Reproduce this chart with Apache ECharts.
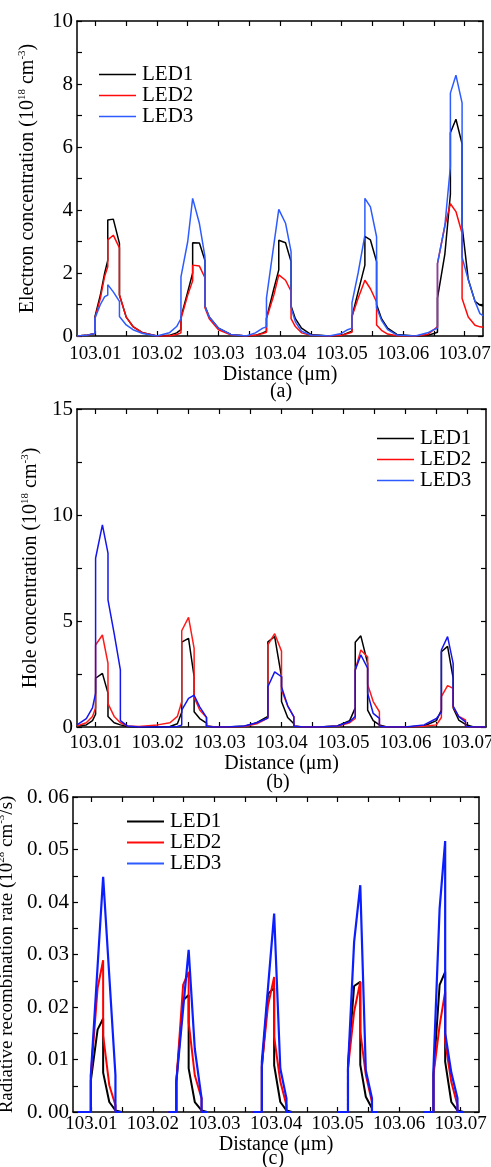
<!DOCTYPE html>
<html>
<head>
<meta charset="utf-8">
<title>LED carrier profiles</title>
<script src="https://cdn.jsdelivr.net/npm/echarts@6.0.0/dist/echarts.min.js"></script>
<style>
  html, body { margin: 0; padding: 0; background: #fff; }
  #chart-container { width: 491px; height: 1167px; }
</style>
</head>
<body>
<div id="chart-container"></div>
<script>
// ---- data ----
// (a) electron concentration, 1e18 cm^-3
const distA = [
  103.0070, 103.0085, 103.0099, 103.0099, 103.0108, 103.0115, 103.0120, 103.0120, 103.0129, 103.0139, 103.0139, 103.0150, 103.0161, 103.0177, 103.0200,
  103.0220, 103.0232, 103.0239, 103.0239, 103.0250, 103.0258, 103.0258, 103.0269, 103.0278, 103.0278, 103.0285, 103.0300, 103.0320, 103.0345,
  103.0360, 103.0372, 103.0378, 103.0378, 103.0390, 103.0398, 103.0398, 103.0409, 103.0418, 103.0418, 103.0425, 103.0435, 103.0450, 103.0480,
  103.0500, 103.0510, 103.0517, 103.0517, 103.0527, 103.0538, 103.0538, 103.0547, 103.0557, 103.0557, 103.0565, 103.0575, 103.0590, 103.0620,
  103.0640, 103.0650, 103.0656, 103.0656, 103.0668, 103.0677, 103.0677, 103.0686, 103.0696, 103.0696, 103.0706, 103.0717, 103.0725, 103.0730
];
const led1A = [
  0, 0.02, 0.08, 0.6, 1.3, 2.0, 2.4, 3.68, 3.71, 2.94, 1.3, 0.6, 0.3, 0.1, 0.0,
  0.02, 0.1, 0.2, 0.6, 1.4, 2.0, 2.96, 2.95, 2.4, 0.95, 0.6, 0.25, 0.05, 0.0,
  0.02, 0.1, 0.15, 0.56, 1.5, 2.1, 3.04, 2.96, 2.36, 0.95, 0.55, 0.25, 0.05, 0.0,
  0.02, 0.1, 0.15, 0.62, 1.4, 2.25, 3.16, 3.05, 2.36, 1.0, 0.55, 0.25, 0.05, 0.0,
  0.02, 0.08, 0.12, 1.2, 2.6, 4.5, 6.45, 6.88, 6.1, 3.5, 1.8, 1.1, 0.98, 0.95
];
const led2A = [
  0, 0.02, 0.08, 0.55, 1.2, 1.9, 2.2, 3.05, 3.2, 2.8, 1.3, 0.6, 0.3, 0.1, 0.0,
  0.0, 0.05, 0.1, 0.55, 1.3, 1.75, 2.25, 2.22, 1.85, 0.9, 0.55, 0.2, 0.04, 0.0,
  0.02, 0.08, 0.12, 0.55, 1.3, 1.94, 1.94, 1.77, 1.42, 0.55, 0.3, 0.1, 0.02, 0.0,
  0.02, 0.08, 0.12, 0.62, 1.2, 1.77, 1.77, 1.5, 1.08, 0.35, 0.18, 0.06, 0.01, 0.0,
  0.05, 0.2, 0.3, 2.3, 3.5, 4.2, 4.2, 3.95, 3.26, 1.19, 0.6, 0.34, 0.29, 0.28
];
const led3A = [
  0, 0.02, 0.08, 0.56, 1.0, 1.25, 1.3, 1.63, 1.4, 1.1, 0.62, 0.35, 0.2, 0.08, 0.0,
  0.1, 0.3, 0.55, 1.88, 3.0, 4.37, 4.37, 3.57, 2.52, 0.95, 0.6, 0.25, 0.05, 0.0,
  0.1, 0.25, 0.29, 1.2, 2.9, 4.02, 4.02, 3.58, 2.68, 0.9, 0.45, 0.15, 0.03, 0.0,
  0.08, 0.2, 0.25, 1.05, 2.0, 3.2, 4.37, 4.1, 3.15, 0.9, 0.5, 0.2, 0.03, 0.0,
  0.1, 0.2, 0.25, 2.3, 3.5, 5.38, 7.71, 8.28, 7.4, 2.5, 1.79, 1.1, 0.71, 0.65
];

// (b) hole concentration, 1e18 cm^-3
const distB = [
  103.0070, 103.0085, 103.0095, 103.0100, 103.0100, 103.0111, 103.0120, 103.0120, 103.0130, 103.0140, 103.0140, 103.0151, 103.0170, 103.0200,
  103.0220, 103.0232, 103.0239, 103.0239, 103.0250, 103.0259, 103.0259, 103.0268, 103.0279, 103.0279, 103.0290, 103.0310,
  103.0340, 103.0360, 103.0378, 103.0378, 103.0389, 103.0400, 103.0400, 103.0410, 103.0420, 103.0420, 103.0435, 103.0460,
  103.0490, 103.0510, 103.0519, 103.0519, 103.0528, 103.0539, 103.0539, 103.0548, 103.0558, 103.0558, 103.0570, 103.0600,
  103.0630, 103.0650, 103.0658, 103.0658, 103.0668, 103.0677, 103.0677, 103.0686, 103.0697, 103.0697, 103.0710, 103.0730
];
const led1B = [
  0.05, 0.1, 0.3, 0.6, 2.3, 2.53, 1.6, 0.5, 0.2, 0.1, 0.05, 0.02, 0.0, 0.0,
  0.02, 0.15, 0.7, 4.0, 4.18, 2.37, 0.72, 0.4, 0.18, 0.05, 0.01, 0.0,
  0.03, 0.2, 0.5, 4.02, 4.26, 2.37, 1.2, 0.45, 0.15, 0.05, 0.0, 0.0,
  0.05, 0.3, 0.9, 4.0, 4.3, 3.0, 0.8, 0.3, 0.1, 0.05, 0.0, 0.0,
  0.05, 0.3, 0.8, 3.55, 3.8, 2.3, 0.9, 0.33, 0.12, 0.03, 0.0, 0.0
];
const led2B = [
  0.05, 0.2, 0.5, 0.9, 3.87, 4.34, 3.0, 1.1, 0.5, 0.2, 0.2, 0.05, 0.02, 0.1,
  0.2, 0.5, 1.19, 4.54, 5.17, 3.71, 1.4, 0.8, 0.45, 0.03, 0.01, 0.0,
  0.02, 0.15, 0.42, 3.87, 4.4, 3.58, 1.75, 1.0, 0.48, 0.03, 0.0, 0.0,
  0.03, 0.2, 0.4, 2.69, 3.63, 3.3, 2.0, 1.2, 0.72, 0.03, 0.0, 0.0,
  0.03, 0.1, 0.45, 1.43, 1.95, 1.82, 0.95, 0.5, 0.33, 0.02, 0.0, 0.0
];
const led3B = [
  0.1, 0.4, 0.9, 1.6, 7.96, 9.53, 8.2, 6.0, 4.4, 2.69, 0.3, 0.05, 0.0, 0.0,
  0.0, 0.02, 0.09, 0.8, 1.35, 1.5, 1.5, 0.95, 0.45, 0.03, 0.0, 0.0,
  0.05, 0.2, 0.42, 1.9, 2.6, 2.37, 1.9, 1.0, 0.48, 0.03, 0.0, 0.0,
  0.05, 0.25, 0.5, 2.69, 3.4, 2.77, 1.6, 0.64, 0.41, 0.03, 0.0, 0.0,
  0.1, 0.4, 0.7, 3.63, 4.26, 3.0, 0.99, 0.49, 0.24, 0.02, 0.0, 0.0
];

// (c) radiative recombination rate, 1e28 cm^-3/s  (null = gap between wells)
const distC = [
  103.0078, 103.0099, 103.0099, 103.0110, 103.0119, 103.0119, 103.0129, 103.0139, 103.0139, 103.0149, 103.0190,
  103.0225, 103.0238, 103.0238, 103.0249, 103.0258, 103.0258, 103.0268, 103.0279, 103.0279, 103.0288, 103.0330,
  103.0362, 103.0377, 103.0377, 103.0387, 103.0397, 103.0397, 103.0407, 103.0417, 103.0417, 103.0426, 103.0470,
  103.0500, 103.0517, 103.0517, 103.0527, 103.0537, 103.0537, 103.0546, 103.0556, 103.0556, 103.0565, 103.0610,
  103.0640, 103.0656, 103.0656, 103.0666, 103.0675, 103.0675, 103.0685, 103.0695, 103.0695, 103.0705
];
const led1C = [
  0, 0, 0.006, 0.0157, 0.0178, 0.0075, 0.0019, 0.0003, 0, 0, null,
  0, 0, 0.0058, 0.0213, 0.0223, 0.0083, 0.0019, 0.0003, 0, 0, null,
  0, 0, 0.0085, 0.0225, 0.0236, 0.0089, 0.0019, 0.0003, 0, 0, null,
  0, 0, 0.009, 0.024, 0.0248, 0.009, 0.0029, 0.0007, 0, 0, null,
  0, 0, 0.0071, 0.0242, 0.0267, 0.0096, 0.0019, 0.0003, 0, 0
];
const led2C = [
  0, 0, 0.007, 0.0236, 0.0289, 0.0146, 0.0051, 0.0013, 0, 0, null,
  0, 0, 0.0058, 0.0242, 0.0267, 0.0171, 0.007, 0.0026, 0, 0, null,
  0, 0, 0.0089, 0.0203, 0.0257, 0.0143, 0.0058, 0.0013, 0, 0, null,
  0, 0, 0.0083, 0.0191, 0.0248, 0.0153, 0.0071, 0.0019, 0, 0, null,
  0, 0, 0.0071, 0.0165, 0.0229, 0.0134, 0.0057, 0.0013, 0, 0
];
const led3C = [
  0, 0, 0.007, 0.0278, 0.0448, 0.0448, 0.0259, 0.007, 0, 0, null,
  0, 0, 0.0058, 0.0196, 0.0309, 0.0309, 0.012, 0.0026, 0, 0, null,
  0, 0, 0.0096, 0.0237, 0.0378, 0.0378, 0.0083, 0.0026, 0, 0, null,
  0, 0, 0.0083, 0.0324, 0.0432, 0.0432, 0.0079, 0.0026, 0, 0, null,
  0, 0, 0.0083, 0.0388, 0.0516, 0.015, 0.0075, 0.0026, 0, 0
];

// ticks
const xLabels = [103.01, 103.02, 103.03, 103.04, 103.05, 103.06, 103.07];
const xTicks = [103.010, 103.015, 103.020, 103.025, 103.030, 103.035, 103.040, 103.045, 103.050, 103.055, 103.060, 103.065, 103.070];
const yLabelsA = [0, 2, 4, 6, 8, 10];
const yTicksA = [0, 1, 2, 3, 4, 5, 6, 7, 8, 9, 10];
const yLabelsB = [0, 5, 10, 15];
const yTicksB = [0, 2.5, 5, 7.5, 10, 12.5, 15];
const yLabelsC = [0, 0.01, 0.02, 0.03, 0.04, 0.05, 0.06];
const yTicksC = [0, 0.005, 0.01, 0.015, 0.02, 0.025, 0.03, 0.035, 0.04, 0.045, 0.05, 0.055, 0.06];

const seriesNames = ["LED1", "LED2", "LED3"];

// ---- chart ----
var dom = document.getElementById("chart-container");
var myChart = echarts.init(dom, null, { renderer: "canvas" });

const FONT = "'Liberation Serif', 'Times New Roman', serif";
const XMIN = 103.007, XMAX = 103.073;

function pairs(xs, ys) {
  return xs.map(function (x, i) { return [x, ys[i]]; });
}

function bottomAxis(grid, nameGap, labelMargin) {
  return {
    type: "value", gridIndex: grid, min: XMIN, max: XMAX, position: "bottom",
    name: "Distance (\u03bcm)", nameLocation: "middle", nameGap: nameGap,
    nameTextStyle: { fontFamily: FONT, fontSize: 20, color: "#000" },
    axisLine: { show: true, onZero: false, lineStyle: { color: "#000", width: 1.5 } },
    axisTick: { inside: true, length: 5, customValues: xTicks, lineStyle: { color: "#000", width: 1.2 } },
    axisLabel: {
      customValues: xLabels, margin: labelMargin, fontFamily: FONT, fontSize: 19, color: "#000",
      formatter: function (v) { return v.toFixed(2); }
    },
    splitLine: { show: false }
  };
}
function topAxis(grid) {
  return {
    type: "value", gridIndex: grid, min: XMIN, max: XMAX, position: "top",
    axisLine: { show: true, onZero: false, lineStyle: { color: "#000", width: 1.5 } },
    axisTick: { inside: true, length: 5, customValues: xTicks, lineStyle: { color: "#000", width: 1.2 } },
    axisLabel: { show: false },
    splitLine: { show: false }
  };
}
function leftAxis(grid, max, labels, ticks, name, nameGap, nameSize, fmt) {
  return {
    type: "value", gridIndex: grid, min: 0, max: max, position: "left",
    name: name, nameLocation: "middle", nameGap: nameGap,
    nameTextStyle: {
      fontFamily: FONT, fontSize: nameSize, color: "#000",
      rich: {
        n: { fontFamily: FONT, fontSize: nameSize, color: "#000" },
        s: { fontFamily: FONT, fontSize: 11, color: "#000", padding: [0, 0, 11, 0] }
      }
    },
    axisLine: { show: true, onZero: false, lineStyle: { color: "#000", width: 1.5 } },
    axisTick: { inside: true, length: 5, customValues: ticks, lineStyle: { color: "#000", width: 1.2 } },
    axisLabel: { customValues: labels, margin: 4, fontFamily: FONT, fontSize: 21, color: "#000", formatter: fmt },
    splitLine: { show: false }
  };
}
function rightAxis(grid, max, ticks) {
  return {
    type: "value", gridIndex: grid, min: 0, max: max, position: "right",
    axisLine: { show: true, onZero: false, lineStyle: { color: "#000", width: 1.5 } },
    axisTick: { inside: true, length: 5, customValues: ticks, lineStyle: { color: "#000", width: 1.2 } },
    axisLabel: { show: false },
    splitLine: { show: false }
  };
}

function lineSeries(name, grid, data, color, width) {
  return {
    name: name, type: "line", xAxisIndex: grid, yAxisIndex: grid,
    data: data, symbol: "none", connectNulls: false, animation: false,
    lineStyle: { color: color, width: width }, itemStyle: { color: color }
  };
}

function legendAt(left, top, thick) {
  return {
    orient: "vertical", left: left, top: top, itemGap: 0, itemWidth: 37, itemHeight: thick,
    icon: "rect", data: seriesNames, selectedMode: false,
    textStyle: { fontFamily: FONT, fontSize: 21, color: "#000", lineHeight: 20, padding: [0, 0, 0, 1] }
  };
}

const colorsA = ["#000000", "#ff0a0a", "#2d5bff"];
const colorsB = ["#000000", "#ff1a1a", "#1515ee"];
const colorsC = ["#000000", "#ff0000", "#0a1eff"];

var option = {
  backgroundColor: "#fff",
  animation: false,
  grid: [
    { left: 77, top: 21, width: 406, height: 315, outerBoundsMode: "none" },
    { left: 77, top: 409, width: 409, height: 318, outerBoundsMode: "none" },
    { left: 73, top: 797, width: 406, height: 315, outerBoundsMode: "none" }
  ],
  legend: [
    legendAt(94, 59, 1.5),
    legendAt(372, 423, 1.5),
    legendAt(122, 806, 2)
  ],
  xAxis: [
    bottomAxis(0, 29, 9), bottomAxis(1, 23, 7), bottomAxis(2, 19, 3),
    topAxis(0), topAxis(1), topAxis(2)
  ],
  yAxis: [
    leftAxis(0, 10, yLabelsA, yTicksA, "{n|Electron concentration (10}{s|18}{n| cm}{s|-3}{n|)}", 38, 20,
      function (v) { return String(v); }),
    leftAxis(1, 15, yLabelsB, yTicksB, "{n|Hole concentration (10}{s|18}{n| cm}{s|-3}{n|)}", 34, 20,
      function (v) { return String(v); }),
    leftAxis(2, 0.06, yLabelsC, yTicksC, "{n|Radiative recombination rate (10}{s|28}{n| cm}{s|-3}{n|/s)}", 52, 19,
      function (v) { return v.toFixed(2).replace(".", ". "); }),
    rightAxis(0, 10, yTicksA), rightAxis(1, 15, yTicksB), rightAxis(2, 0.06, yTicksC)
  ],
  graphic: [
    { type: "text", x: 281, y: 392, style: { text: "(a)", font: "20px " + FONT, fill: "#000", textAlign: "center", textVerticalAlign: "middle" } },
    { type: "text", x: 278, y: 783, style: { text: "(b)", font: "20px " + FONT, fill: "#000", textAlign: "center", textVerticalAlign: "middle" } },
    { type: "text", x: 273, y: 1159, style: { text: "(c)", font: "20px " + FONT, fill: "#000", textAlign: "center", textVerticalAlign: "middle" } }
  ],
  series: [
    lineSeries("LED1", 0, pairs(distA, led1A), colorsA[0], 1.5),
    lineSeries("LED2", 0, pairs(distA, led2A), colorsA[1], 1.5),
    lineSeries("LED3", 0, pairs(distA, led3A), colorsA[2], 1.5),
    lineSeries("LED1", 1, pairs(distB, led1B), colorsB[0], 1.5),
    lineSeries("LED2", 1, pairs(distB, led2B), colorsB[1], 1.5),
    lineSeries("LED3", 1, pairs(distB, led3B), colorsB[2], 1.5),
    lineSeries("LED1", 2, pairs(distC, led1C), colorsC[0], 2),
    lineSeries("LED2", 2, pairs(distC, led2C), colorsC[1], 2),
    lineSeries("LED3", 2, pairs(distC, led3C), colorsC[2], 2.2)
  ]
};

if (option && typeof option === "object") {
  myChart.setOption(option);
}
window.addEventListener("resize", myChart.resize);
</script>
</body>
</html>
